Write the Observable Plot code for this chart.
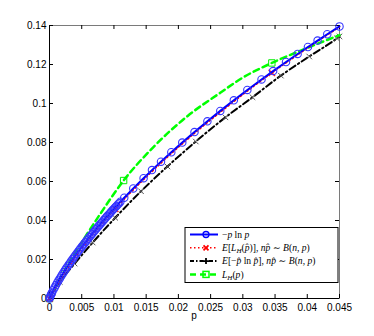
<!DOCTYPE html>
<html><head><meta charset="utf-8">
<script src="https://cdn.jsdelivr.net/npm/d3@7"></script>
<script src="https://cdn.jsdelivr.net/npm/@observablehq/plot@0.6"></script>
<style>body{margin:0;background:#fff;}</style>
</head><body><div id="chart"></div>
<script>
// ---- data ----
const xTicks = [0, 0.005, 0.01, 0.015, 0.02, 0.025, 0.03, 0.035, 0.04, 0.045];
const yTicks = [0, 0.02, 0.04, 0.06, 0.08, 0.1, 0.12, 0.14];

// -p ln p (blue, circles)
const pBlue = [0,0.00005,0.0001,0.0002,0.0003,0.0004,0.0006,0.0008,0.001,0.0012,0.0014,0.0016,0.0018,0.002,0.0022,0.0024,0.0026,0.0028,0.0030,0.0032,0.0034,0.0036,0.0038,0.004,0.0042,0.0044,0.0046,0.0048,0.0050,0.0052,0.0054,0.0056,0.0058,0.006,0.0062,0.0064,0.0066,0.0068,0.0070,0.0072,0.0074,0.0076,0.0078,0.008,0.0082,0.0084,0.0086,0.0088,0.0090,0.0092,0.0094,0.0096,0.0098,0.01,0.0102,0.0104,0.0106,0.0108,0.0110,0.0116,0.0130,0.0146,0.0159,0.0173,0.0189,0.0206,0.0225,0.0245,0.0265,0.0286,0.0307,0.0329,0.0347,0.0367,0.0385,0.0401,0.0416,0.0431,0.045];
const hBlue = [0,0.000495,0.000921,0.001703,0.002434,0.003130,0.004451,0.005705,0.006908,0.008070,0.009200,0.010301,0.011376,0.012429,0.013462,0.014478,0.015476,0.016459,0.017427,0.018383,0.019325,0.020256,0.021177,0.022086,0.022985,0.023875,0.024756,0.025628,0.026492,0.027347,0.028195,0.029036,0.029870,0.030696,0.031516,0.032330,0.033137,0.033937,0.034733,0.035523,0.036306,0.037085,0.037859,0.038626,0.039390,0.040148,0.040902,0.041650,0.042395,0.043135,0.043870,0.044602,0.045329,0.046052,0.046771,0.047485,0.048197,0.048905,0.049609,0.051698,0.056457,0.061710,0.065848,0.070186,0.075006,0.079979,0.085370,0.090873,0.096211,0.101653,0.106940,0.112327,0.116627,0.121294,0.125398,0.128978,0.132276,0.135519,0.139549];

// E[L_H(p^)] (red, dotted, x markers)
const pRed = [0,0.0005,0.001,0.002,0.004,0.006,0.008,0.0102,0.0115,0.015,0.019,0.023,0.027,0.031,0.0345,0.038,0.0415,0.045];
const hRed = [0,0.0030,0.0060,0.0114,0.0211,0.0298,0.0378,0.0460,0.0506,0.0622,0.0746,0.0861,0.0968,0.1071,0.1157,0.1238,0.1317,0.1392];
const pRedMk = [0, 0.0102, 0.0345];
const hRedMk = [0, 0.0460, 0.1157];

// E[-p^ ln p^] (black, dash-dot)
const pBlack = [0,0.0005,0.0016,0.0039,0.0067,0.0102,0.0142,0.0183,0.0227,0.0273,0.0315,0.0359,0.0403,0.0446,0.045];
const hBlack = [0,0.0030,0.0085,0.0179,0.0287,0.0414,0.0550,0.0677,0.0805,0.0929,0.1032,0.1143,0.1241,0.1334,0.1344];

// L_H(p) (green, dashed, squares)
const pGreen = [0,0.002,0.005,0.0077,0.0115,0.0162,0.0214,0.0265,0.030,0.0345,0.040,0.045];
const hGreen = [0,0.0125,0.0288,0.0425,0.0605,0.0779,0.0935,0.1055,0.1133,0.1208,0.1285,0.1351];
const pGreenMk = [0, 0.0115, 0.0345];
const hGreenMk = [0, 0.0605, 0.1208];

const zip = (xs, ys) => xs.map((x, i) => ({x, y: ys[i]}));
const blue = zip(pBlue, hBlue), red = zip(pRed, hRed), redMk = zip(pRedMk, hRedMk);
const black = zip(pBlack, hBlack), green = zip(pGreen, hGreen), greenMk = zip(pGreenMk, hGreenMk);

const W = 374, H = 336, mL = 49, mR = 35, mT = 25, mB = 38;
const innerW = W - mL - mR, innerH = H - mT - mB;
const fmt = d => d === 0 ? "0" : String(+d.toFixed(4));

const plot = Plot.plot({
  width: W, height: H, marginLeft: mL, marginRight: mR, marginTop: mT, marginBottom: mB,
  style: {fontFamily: "'Liberation Sans', Arial, sans-serif", fontSize: "10px", background: "#fff", color: "#000"},
  x: {domain: [0, 0.045]},
  y: {domain: [0, 0.14]},
  marks: [
    Plot.frame({stroke: "#7a7a7a"}),
    Plot.tickX(xTicks, {x: d => d, insetTop: innerH - 4, stroke: "#000"}),
    Plot.tickX(xTicks, {x: d => d, insetBottom: innerH - 4, stroke: "#000"}),
    Plot.tickY(yTicks, {y: d => d, insetRight: innerW - 4, stroke: "#000"}),
    Plot.tickY(yTicks, {y: d => d, insetLeft: innerW - 4, stroke: "#000"}),
    Plot.ruleX([0], {stroke: "#000"}),
    Plot.ruleY([0], {stroke: "#000"}),
    Plot.axisX(xTicks, {tickSize: 0, tickPadding: 5, label: null, tickFormat: fmt}),
    Plot.axisY(yTicks, {tickSize: 0, tickPadding: 3, label: null, tickFormat: fmt}),
    // black dash-dot
    Plot.line(black, {x: "x", y: "y", stroke: "#000", strokeWidth: 2, strokeDasharray: "7,3,1.5,3", curve: "monotone-x"}),
    Plot.dot(black, {x: "x", y: "y", symbol: "times", r: 2.6, stroke: "#555", strokeWidth: 1}),
    // green dashed
    Plot.line(green, {x: "x", y: "y", stroke: "#00ff00", strokeWidth: 2.5, strokeDasharray: "6,4", curve: "monotone-x"}),
    Plot.dot(greenMk, {x: "x", y: "y", symbol: "square", r: 3.6, stroke: "#00ee00", fill: "none", strokeWidth: 1}),
    // red dotted
    Plot.line(red, {x: "x", y: "y", stroke: "#ff0000", strokeWidth: 1.5, strokeDasharray: "1.5,2.5", curve: "monotone-x"}),
    Plot.dot(redMk, {x: "x", y: "y", symbol: "times", r: 3, stroke: "#ff2020", strokeWidth: 1.5}),
    // blue solid
    Plot.line(blue, {x: "x", y: "y", stroke: "#0000ff", strokeWidth: 2}),
    Plot.dot(blue, {x: "x", y: "y", symbol: "circle", r: 3.7, stroke: "#3535ff", fill: "none", strokeWidth: 1.1})
  ]
});
document.getElementById("chart").appendChild(plot);

// ---- x-axis label and legend (drawn into the plot's SVG) ----
const svg = d3.select(plot);
const fLeft = mL, fRight = W - mR, fTop = mT, fBottom = H - mB;
svg.append("text").attr("x", (fLeft + fRight) / 2).attr("y", fBottom + 21)
  .attr("text-anchor", "middle").attr("font-family", "'Liberation Sans', Arial, sans-serif")
  .attr("font-size", 10).text("p");

const legendItems = [
  {color: "#0000ff", dash: null, width: 2, symbol: "circle",
   text: [["−", 0], ["p", 1], [" ln ", 0], ["p", 1]]},
  {color: "#ff0000", dash: "1.5,2.5", width: 1.5, symbol: "times",
   text: [["E", 1], ["[", 0], ["L", 1], ["H", 2], ["(", 0], ["p\u0302", 1], [")]", 0], [", ", 0], ["n", 1], ["p\u0302", 1], [" ∼ ", 0], ["B", 1], ["(", 0], ["n", 1], [", ", 0], ["p", 1], [")", 0]]},
  {color: "#000", dash: "4,2,1.5,2", width: 2, symbol: "plus",
   text: [["E", 1], ["[−", 0], ["p\u0302", 1], [" ln ", 0], ["p\u0302", 1], ["]", 0], [", ", 0], ["n", 1], ["p\u0302", 1], [" ∼ ", 0], ["B", 1], ["(", 0], ["n", 1], [", ", 0], ["p", 1], [")", 0]]},
  {color: "#00ff00", dash: "6,4", width: 2.5, symbol: "square",
   text: [["L", 1], ["H", 2], ["(", 0], ["p", 1], [")", 0]]}
];
const bw = 153, bh = 55;
const bx = fRight - 1 - bw, by = fBottom - 15.5 - bh;
const lg = svg.append("g").attr("text-anchor", "start");
lg.append("rect").attr("x", bx).attr("y", by).attr("width", bw).attr("height", bh)
  .attr("fill", "#fff").attr("stroke", "#000").attr("stroke-width", 1);
legendItems.forEach((it, i) => {
  const cy = by + 7 + i * 13.3;
  lg.append("line").attr("x1", bx + 5).attr("x2", bx + 33).attr("y1", cy).attr("y2", cy)
    .attr("stroke", it.color).attr("stroke-width", it.width)
    .attr("stroke-dasharray", it.dash);
  const mx = bx + 21;
  if (it.symbol === "circle") {
    lg.append("circle").attr("cx", mx).attr("cy", cy).attr("r", 3).attr("fill", "none").attr("stroke", it.color).attr("stroke-width", 1.3);
  } else if (it.symbol === "times") {
    lg.append("path").attr("d", `M${mx-2.5},${cy-2.5}L${mx+2.5},${cy+2.5}M${mx-2.5},${cy+2.5}L${mx+2.5},${cy-2.5}`).attr("stroke", it.color).attr("stroke-width", 1.8);
  } else if (it.symbol === "plus") {
    lg.append("path").attr("d", `M${mx-3},${cy}L${mx+3},${cy}M${mx},${cy-3}L${mx},${cy+3}`).attr("stroke", it.color).attr("stroke-width", 1.8);
  } else if (it.symbol === "square") {
    lg.append("rect").attr("x", mx - 3).attr("y", cy - 3).attr("width", 6).attr("height", 6).attr("fill", "none").attr("stroke", it.color).attr("stroke-width", 1.5);
  }
  const t = lg.append("text").attr("x", bx + 37).attr("y", cy + 3.3).attr("text-anchor", "start")
    .attr("font-family", "'Liberation Serif', 'DejaVu Serif', serif").attr("font-size", 9.6).attr("fill", "#000");
  let sub = false;
  it.text.forEach(([s, k]) => {
    const ts = t.append("tspan").text(s);
    if (k === 1) ts.attr("font-style", "italic");
    if (k === 2) { ts.attr("font-style", "italic").attr("font-size", 7).attr("dy", 2); sub = true; }
    else if (sub) { ts.attr("dy", -2); sub = false; }
  });
});
</script>
</body></html>
